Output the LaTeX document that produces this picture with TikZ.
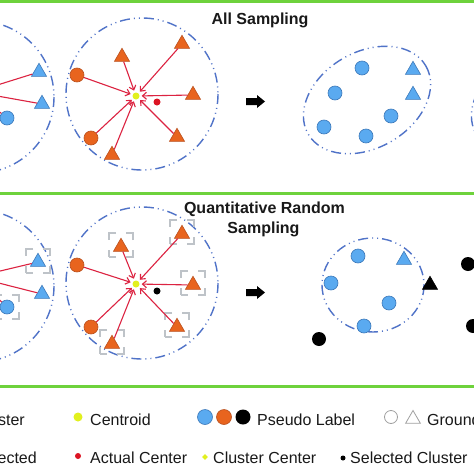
\documentclass[tikz,border=0pt]{standalone}
\usepackage{fontspec}
\setmainfont{Liberation Sans}
\usetikzlibrary{shapes.geometric,arrows.meta}
\definecolor{grn}{RGB}{110,210,60}
\definecolor{cblue}{RGB}{80,115,200}
\definecolor{ofill}{RGB}{232,100,30}
\definecolor{odraw}{RGB}{185,80,30}
\definecolor{bfill}{RGB}{90,170,240}
\definecolor{bdraw}{RGB}{60,120,185}
\definecolor{arr}{RGB}{220,35,65}
\definecolor{ylw}{RGB}{225,240,30}
\definecolor{rdot}{RGB}{220,20,35}
\definecolor{boxg}{RGB}{190,195,200}
\definecolor{txt}{RGB}{25,25,25}
\definecolor{hollow}{RGB}{160,160,160}
\tikzset{
 clus/.style={draw=cblue, line width=1.4pt, dash pattern=on 10pt off 4pt on 1pt off 4pt on 1pt off 4pt},
 otri/.style={regular polygon, regular polygon sides=3, fill=ofill, draw=odraw, line width=0.6pt, minimum size=17.5pt, inner sep=0pt},
 btri/.style={otri, fill=bfill, draw=bdraw},
 ktri/.style={otri, fill=black, draw=black},
 ocirc/.style={circle, fill=ofill, draw=odraw, line width=0.6pt, minimum size=14pt, inner sep=0pt},
 bcirc/.style={ocirc, fill=bfill, draw=bdraw},
 kcirc/.style={circle, fill=black, minimum size=14pt, inner sep=0pt},
 cent/.style={circle, fill=ylw, minimum size=7pt, inner sep=0pt},
 reddot/.style={circle, fill=rdot, minimum size=7pt, inner sep=0pt},
 seldot/.style={circle, fill=black, minimum size=7pt, inner sep=0pt},
 selbox/.style={rectangle, draw=boxg, line width=2pt, minimum size=24pt, inner sep=0pt, dash pattern=on 14pt off 10pt, dash phase=7pt},
 pull/.style={draw=arr, line width=1.1pt, -{Straight Barb[length=4pt,width=7pt]}, shorten >=2pt},
 ttl/.style={font=\fontsize{16}{20}\selectfont\bfseries, text=txt, anchor=base, inner sep=0pt},
 lgd/.style={font=\fontsize{16}{20}\selectfont, text=txt, anchor=base west, inner sep=0pt},
 sep/.style={draw=grn, line width=2.2pt},
 hcirc/.style={circle, draw=hollow, line width=0.8pt, minimum size=13pt, inner sep=0pt},
 htri/.style={regular polygon, regular polygon sides=3, draw=hollow, line width=0.8pt, minimum size=17pt, inner sep=0pt},
 ydia/.style={diamond, fill=ylw, minimum size=6pt, inner sep=0pt},
}
\begin{document}
\begin{tikzpicture}[x=1pt,y=-1pt]
\useasboundingbox (0,0) rectangle (474,474);
\clip (0,0) rectangle (474,474);
\fill[white] (0,0) rectangle (474,474);

% separators
\draw[sep] (0,1.5) -- (474,1.5);
\draw[sep] (0,193.5) -- (474,193.5);
\draw[sep] (0,386.5) -- (474,386.5);

% ================= TOP PANEL =================
\node[ttl] (t1) at (260,24) {All Sampling};

% left (cut) cluster
\draw[clus] (-22,97) circle (76);
\coordinate (lc1) at (-25,92);
\node[btri] (a1) at (39,72) {};
\node[btri] (a2) at (42,104) {};
\node[bcirc] (a3) at (7,118) {};
\draw[pull] (a1) -- (lc1);
\draw[pull] (a2) -- (lc1);
\draw[pull] (a3) -- (lc1);

% middle cluster
\draw[clus] (142,94) circle (76);
\node[cent] (c1) at (136,96) {};
\node[reddot] (r1) at (157,102) {};
\node[otri] (o1) at (122,57) {};
\node[otri] (o2) at (182,44) {};
\node[ocirc] (o3) at (77,75) {};
\node[otri] (o4) at (193,95) {};
\node[ocirc] (o5) at (91,138) {};
\node[otri] (o6) at (112,155) {};
\node[otri] (o7) at (177,137) {};
\foreach \n in {o1,o2,o3,o4,o5,o6,o7} \draw[pull] (\n) -- (c1);

% block arrow
\fill[black] (246,98) -- (257,98) -- (257,95) -- (265,101.5) -- (257,108) -- (257,105) -- (246,105) -- cycle;

% right cluster (ellipse)
\draw[clus, rotate around={30:(367,100)}] (367,100) ellipse [x radius=68, y radius=48];
\node[bcirc] (e1) at (362,68) {};
\node[btri] (e2) at (413,70) {};
\node[bcirc] (e3) at (335,93) {};
\node[btri] (e4) at (413,95) {};
\node[bcirc] (e5) at (391,116) {};
\node[bcirc] (e6) at (324,127) {};
\node[bcirc] (e7) at (366,136) {};
% next (cut) cluster
\draw[clus, rotate around={30:(535,100)}] (535,100) ellipse [x radius=68, y radius=48];

% ================= BOTTOM PANEL =================
\node[ttl] (t2) at (264.5,213.5) {Quantitative Random};
\node[ttl] (t3) at (263.5,233.5) {Sampling};

% left (cut) cluster
\draw[clus] (-22,286) circle (76);
\coordinate (lc2) at (-25,277);
\node[selbox] (sb1) at (38,261) {};
\node[selbox] (sb2) at (7,307) {};
\node[btri] (d1) at (38,262) {};
\node[btri] (d2) at (42,294) {};
\node[bcirc] (d3) at (7,307) {};
\draw[pull] (d1) -- (lc2);
\draw[pull] (d2) -- (lc2);
\draw[pull] (d3) -- (lc2);

% middle cluster
\draw[clus] (142,283) circle (76);
\node[selbox] (sb3) at (121,245) {};
\node[selbox] (sb4) at (182,232) {};
\node[selbox] (sb5) at (193,283) {};
\node[selbox] (sb6) at (112,342) {};
\node[selbox] (sb7) at (177,325) {};
\node[cent] (c2) at (136,284) {};
\node[seldot] (k1) at (157,291) {};
\node[otri] (p1) at (121,247) {};
\node[otri] (p2) at (182,234) {};
\node[ocirc] (p3) at (77,265) {};
\node[otri] (p4) at (193,285) {};
\node[ocirc] (p5) at (91,327) {};
\node[otri] (p6) at (112,344) {};
\node[otri] (p7) at (177,327) {};
\foreach \n in {p1,p2,p3,p4,p5,p6,p7} \draw[pull] (\n) -- (c2);

% block arrow
\fill[black] (246,289) -- (257,289) -- (257,286) -- (265,292.5) -- (257,299) -- (257,296) -- (246,296) -- cycle;

% right cluster
\draw[clus] (373,285) ellipse [x radius=51, y radius=47];
\node[bcirc] (f1) at (358,256) {};
\node[btri] (f2) at (404,260) {};
\node[bcirc] (f3) at (331,283) {};
\node[ktri] (f4) at (430,285) {};
\node[bcirc] (f5) at (389,303) {};
\node[bcirc] (f6) at (364,326) {};
\node[kcirc] (g1) at (319,339) {};
\node[kcirc] (g2) at (468,264) {};
\node[kcirc] (g3) at (473,326) {};

% ================= LEGEND =================
\node[lgd, anchor=base east] (l0) at (25,425) {Cluster};
\node[cent, minimum size=9pt] (l1) at (78,417) {};
\node[lgd] (l1t) at (90,425) {Centroid};
\node[bcirc, minimum size=15pt] (l2a) at (205,417) {};
\node[ocirc, minimum size=15pt] (l2b) at (224,417) {};
\node[kcirc, minimum size=15pt] (l2c) at (243,417) {};
\node[lgd] (l2t) at (257,425) {Pseudo Label};
\node[hcirc] (l3a) at (391,417) {};
\node[htri] (l3b) at (413,419) {};
\node[lgd] (l3t) at (427,425) {Ground Truth};

\node[lgd, anchor=base east] (m0) at (37,463) {Selected};
\node[reddot, minimum size=6pt] (m1) at (78,456) {};
\node[lgd] (m1t) at (90,463) {Actual Center};
\node[ydia] (m2) at (205,457) {};
\node[lgd] (m2t) at (213,463) {Cluster Center};
\node[seldot, minimum size=5pt] (m3) at (343,458) {};
\node[lgd] (m3t) at (350,463) {Selected Cluster};
\end{tikzpicture}
\end{document}
